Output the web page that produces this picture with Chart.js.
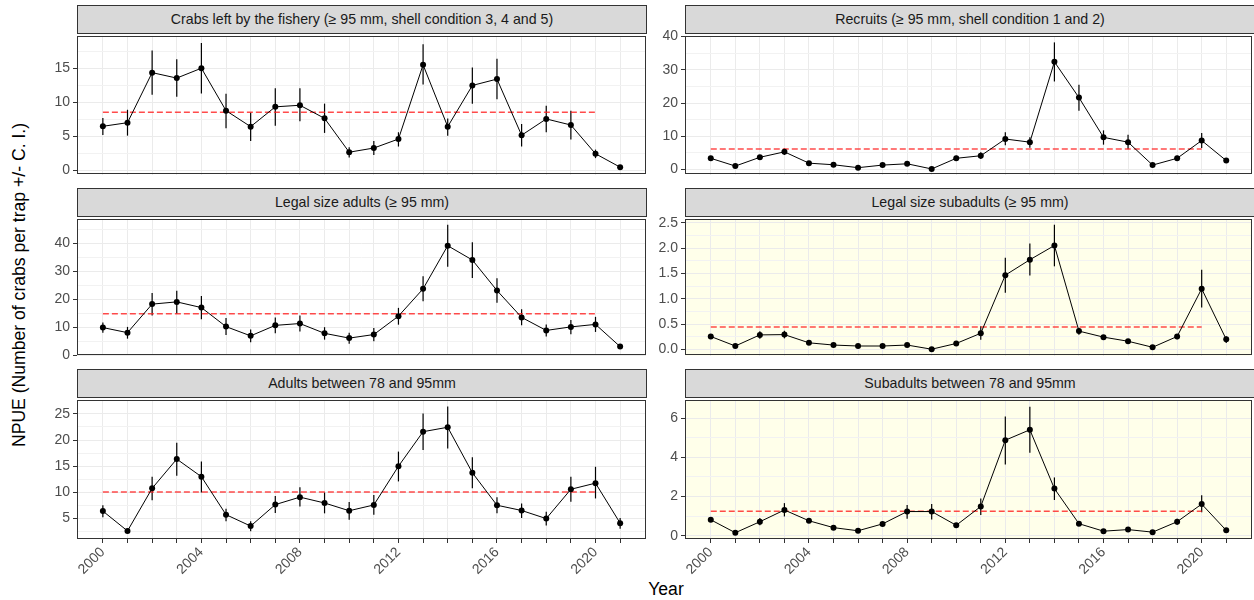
<!DOCTYPE html>
<html>
<head>
<meta charset="utf-8">
<script src="https://cdn.jsdelivr.net/npm/chart.js@4.4.0/dist/chart.umd.min.js"></script>
<style>
  html, body { margin: 0; padding: 0; overflow: hidden; background: #fff; }
  body { position: relative; width: 1254px; height: 600px; font-family: "Liberation Sans", Arial, sans-serif; }
  canvas { position: absolute; }
  .strip { position: absolute; box-sizing: border-box; background: #d9d9d9; border: 1px solid #333;
           color: #1a1a1a; font-size: 14.2px; text-align: center; z-index: 2; }
  .ytitle { position: absolute; left: 19px; top: 285px; transform: translate(-50%, -50%) rotate(-90deg);
            white-space: nowrap; font-size: 17.6px; color: #000; }
  .xtitle { position: absolute; left: 666px; top: 579px; transform: translateX(-50%); font-size: 17.6px; color: #000; }
</style>
</head>
<body>
<div class="ytitle">NPUE (Number of crabs per trap +/- C. I.)</div>
<div class="xtitle">Year</div>
<script>
const years = [2000, 2001, 2002, 2003, 2004, 2005, 2006, 2007, 2008, 2009, 2010,
               2011, 2012, 2013, 2014, 2015, 2016, 2017, 2018, 2019, 2020, 2021];
const yearLabels = [2000, 2004, 2008, 2012, 2016, 2020];
const meanSpan = [2000, 2020];

// crabs left by the fishery
const fisheryVal = [6.47, 7.0, 14.35, 13.55, 15.0, 8.77, 6.42, 9.33, 9.56, 7.64, 2.67, 3.28, 4.6, 15.5, 6.42, 12.47, 13.4, 5.16, 7.55, 6.66, 2.44, 0.47];
const fisheryHi = [7.7, 8.9, 17.6, 16.3, 18.7, 11.25, 8.5, 12.05, 12.05, 9.8, 3.4, 4.3, 5.6, 18.5, 7.6, 15.1, 16.4, 6.8, 9.5, 8.77, 3.05, 0.7];
const fisheryLo = [5.2, 5.1, 11.1, 10.8, 11.3, 6.2, 4.3, 6.56, 7.2, 5.5, 1.9, 2.25, 3.5, 12.6, 5.1, 9.8, 10.45, 3.5, 5.6, 4.55, 1.8, 0.23];
const fisheryMean = 8.53;
const fisheryTicks = [0, 5, 10, 15];

// recruits
const recruitVal = [3.4, 1.07, 3.7, 5.34, 1.94, 1.46, 0.58, 1.36, 1.75, 0.2, 3.4, 4.17, 9.2, 8.25, 32.4, 21.65, 9.7, 8.25, 1.36, 3.4, 8.74, 2.72];
const recruitHi = [3.9, 1.3, 4.3, 6.3, 2.3, 1.8, 0.8, 1.7, 2.1, 0.35, 4.2, 5.2, 11.2, 9.7, 38.25, 25.5, 11.8, 10.5, 1.8, 4.2, 11.0, 3.3];
const recruitLo = [2.9, 0.85, 3.1, 4.4, 1.6, 1.1, 0.4, 1.0, 1.4, 0.05, 2.6, 3.2, 7.3, 6.6, 26.5, 17.7, 7.5, 6.1, 0.9, 2.6, 6.5, 2.1];
const recruitMean = 6.2;
const recruitTicks = [0, 10, 20, 30, 40];

// legal size adults
const legalAdultVal = [9.86, 8.05, 18.24, 19.04, 17.0, 10.2, 6.9, 10.65, 11.3, 7.8, 6.1, 7.37, 13.94, 23.7, 39.1, 34.0, 23.1, 13.5, 8.84, 10.1, 11.0, 3.06];
const legalAdultHi = [11.7, 10.1, 22.2, 23.0, 21.1, 13.3, 9.2, 13.5, 14.2, 10.0, 8.05, 9.75, 16.9, 28.2, 46.6, 40.3, 27.5, 16.4, 11.0, 12.6, 13.7, 3.4];
const legalAdultLo = [8.0, 5.9, 14.2, 14.8, 12.8, 7.25, 4.6, 7.8, 8.5, 5.55, 4.1, 5.0, 10.9, 19.3, 31.6, 27.6, 18.7, 10.65, 6.7, 7.5, 8.3, 2.7];
const legalAdultMean = 14.84;
const legalAdultTicks = [0, 10, 20, 30, 40];

// legal size subadults
const legalSubVal = [0.257, 0.069, 0.288, 0.294, 0.132, 0.088, 0.069, 0.069, 0.088, 0.006, 0.119, 0.32, 1.466, 1.77, 2.05, 0.363, 0.244, 0.163, 0.044, 0.257, 1.197, 0.2];
const legalSubHi = [0.29, 0.09, 0.36, 0.37, 0.16, 0.11, 0.09, 0.09, 0.11, 0.02, 0.15, 0.46, 1.81, 2.09, 2.46, 0.43, 0.28, 0.19, 0.06, 0.3, 1.57, 0.26];
const legalSubLo = [0.22, 0.05, 0.21, 0.22, 0.1, 0.07, 0.05, 0.05, 0.07, 0.0, 0.09, 0.19, 1.12, 1.46, 1.64, 0.29, 0.21, 0.14, 0.03, 0.2, 0.83, 0.13];
const legalSubMean = 0.445;
const legalSubTicks = [0, 0.5, 1.0, 1.5, 2.0, 2.5];

// adults between 78 and 95mm
const adultVal = [6.43, 2.64, 10.78, 16.37, 13.0, 5.75, 3.57, 7.67, 9.1, 7.98, 6.5, 7.6, 15.0, 21.6, 22.45, 13.76, 7.55, 6.55, 5.0, 10.6, 11.77, 4.13];
const adultHi = [7.55, 2.9, 13.0, 19.5, 15.9, 6.9, 4.5, 9.3, 11.0, 10.0, 8.17, 9.5, 17.8, 25.1, 26.4, 16.7, 9.1, 7.9, 6.3, 13.0, 14.9, 5.1];
const adultLo = [5.25, 2.4, 8.5, 13.2, 10.0, 4.5, 2.6, 6.05, 7.3, 6.0, 4.8, 5.75, 12.1, 18.1, 18.4, 10.8, 6.0, 5.1, 3.7, 8.2, 8.85, 3.07];
const adultMean = 10.1;
const adultTicks = [5, 10, 15, 20, 25];

// subadults between 78 and 95mm
const subadultVal = [0.81, 0.15, 0.71, 1.31, 0.76, 0.41, 0.25, 0.6, 1.23, 1.23, 0.53, 1.49, 4.87, 5.4, 2.4, 0.61, 0.23, 0.31, 0.18, 0.71, 1.61, 0.27];
const subadultHi = [0.9, 0.2, 0.9, 1.66, 0.88, 0.48, 0.3, 0.7, 1.57, 1.61, 0.65, 1.9, 6.08, 6.58, 2.97, 0.7, 0.27, 0.36, 0.22, 0.86, 2.06, 0.32];
const subadultLo = [0.7, 0.1, 0.53, 0.98, 0.64, 0.34, 0.2, 0.5, 0.86, 0.83, 0.41, 1.06, 3.63, 4.23, 1.82, 0.52, 0.19, 0.26, 0.14, 0.56, 1.19, 0.22];
const subadultMean = 1.24;
const subadultTicks = [0, 2, 4, 6];

// layout
const cols = [
  {canvasLeft: 0, width: 650, axisW: 77, padRight: 3},
  {canvasLeft: 640, width: 616, axisW: 45, padRight: 1}
];
const rows = [{top: 33, h: 145}, {top: 216, h: 143}, {top: 397, h: 142}];
const stripH = 28;
const xAxisH = 45;

const panels = [
  {title: 'Crabs left by the fishery (≥ 95 mm, shell condition 3, 4 and 5)', val: fisheryVal, lo: fisheryLo, hi: fisheryHi,
   mean: fisheryMean, ticks: fisheryTicks, min: -0.62, max: 19.67, col: 0, row: 0, bg: '#ffffff', dec: 0},
  {title: 'Recruits (≥ 95 mm, shell condition 1 and 2)', val: recruitVal, lo: recruitLo, hi: recruitHi,
   mean: recruitMean, ticks: recruitTicks, min: -1.5, max: 40.05, col: 1, row: 0, bg: '#ffffff', dec: 0},
  {title: 'Legal size adults (≥ 95 mm)', val: legalAdultVal, lo: legalAdultLo, hi: legalAdultHi,
   mean: legalAdultMean, ticks: legalAdultTicks, min: -0.15, max: 48.5, col: 0, row: 1, bg: '#ffffff', dec: 0},
  {title: 'Legal size subadults (≥ 95 mm)', val: legalSubVal, lo: legalSubLo, hi: legalSubHi,
   mean: legalSubMean, ticks: legalSubTicks, min: -0.12, max: 2.565, col: 1, row: 1, bg: '#ffffea', dec: 1},
  {title: 'Adults between 78 and 95mm', val: adultVal, lo: adultLo, hi: adultHi,
   mean: adultMean, ticks: adultTicks, min: 1.1, max: 27.58, col: 0, row: 2, bg: '#ffffff', dec: 0},
  {title: 'Subadults between 78 and 95mm', val: subadultVal, lo: subadultLo, hi: subadultHi,
   mean: subadultMean, ticks: subadultTicks, min: -0.17, max: 6.9, col: 1, row: 2, bg: '#ffffea', dec: 0}
];

const font = {family: '"Liberation Sans", Arial, sans-serif', size: 14};

function panelPlugin(p) {
  return {
    id: 'panelDeco',
    beforeDraw(chart) {
      const a = chart.chartArea, ctx = chart.ctx;
      ctx.save();
      ctx.fillStyle = p.bg;
      ctx.fillRect(a.left, a.top, a.right - a.left, a.bottom - a.top);
      ctx.restore();
    },
    beforeDatasetsDraw(chart) {
      const {ctx, scales: {x, y}} = chart;
      ctx.save();
      ctx.strokeStyle = '#000';
      ctx.lineWidth = 1.2;
      years.forEach((yr, i) => {
        const px = x.getPixelForValue(yr);
        ctx.beginPath();
        ctx.moveTo(px, y.getPixelForValue(p.lo[i]));
        ctx.lineTo(px, y.getPixelForValue(p.hi[i]));
        ctx.stroke();
      });
      ctx.restore();
    },
    afterDraw(chart) {
      const a = chart.chartArea, ctx = chart.ctx;
      ctx.save();
      ctx.strokeStyle = '#333';
      ctx.lineWidth = 1;
      ctx.strokeRect(Math.round(a.left) + 0.5, Math.round(a.top) + 0.5,
                     Math.round(a.right - a.left) - 1, Math.round(a.bottom - a.top) - 1);
      ctx.restore();
    }
  };
}

panels.forEach(p => {
  const c = cols[p.col], r = rows[p.row];
  const bottomRow = p.row === 2;
  const canvas = document.createElement('canvas');
  canvas.width = c.width;
  canvas.height = 8 + r.h + (bottomRow ? xAxisH : 8);
  canvas.style.left = c.canvasLeft + 'px';
  canvas.style.top = (r.top - 8) + 'px';
  document.body.appendChild(canvas);

  const strip = document.createElement('div');
  strip.className = 'strip';
  strip.textContent = p.title;
  const areaLeft = c.canvasLeft + c.axisW;
  const areaRight = c.canvasLeft + c.width - c.padRight;
  strip.style.left = areaLeft + 'px';
  strip.style.width = (areaRight - areaLeft) + 'px';
  strip.style.top = (r.top - stripH) + 'px';
  strip.style.height = (stripH + 1) + 'px';
  strip.style.lineHeight = (stripH - 1) + 'px';
  document.body.appendChild(strip);

  // minor breaks halfway between majors
  const step = p.ticks[1] - p.ticks[0];
  const minor = [];
  for (let v = p.ticks[0] - step / 2; v <= p.ticks[p.ticks.length - 1] + step / 2 + 1e-9; v += step) {
    if (v >= p.min && v <= p.max) minor.push(+v.toFixed(4));
  }
  const isMajor = v => p.ticks.some(t => Math.abs(t - v) < 1e-6);

  new Chart(canvas, {
    data: {
      datasets: [
        {
          type: 'line',
          data: years.map((yr, i) => ({x: yr, y: p.val[i]})),
          borderColor: '#000',
          borderWidth: 1,
          pointRadius: 3,
          pointBackgroundColor: '#000',
          pointBorderWidth: 0,
          tension: 0
        },
        {
          type: 'line',
          data: meanSpan.map(yr => ({x: yr, y: p.mean})),
          borderColor: 'rgba(255, 30, 30, 0.8)',
          borderWidth: 1.5,
          borderDash: [6, 3],
          pointRadius: 0
        }
      ]
    },
    options: {
      responsive: false,
      animation: false,
      devicePixelRatio: 1,
      layout: {padding: {top: 8, bottom: bottomRow ? 0 : 8, left: 0, right: c.padRight}},
      plugins: {legend: {display: false}, tooltip: {enabled: false}},
      scales: {
        x: {
          type: 'linear',
          min: 1998.95,
          max: 2022.05,
          afterBuildTicks: s => { s.ticks = years.map(v => ({value: v})); },
          afterFit: s => { s.height = bottomRow ? xAxisH : 0; },
          border: {display: false},
          grid: {color: '#ebebeb', lineWidth: 1, drawTicks: bottomRow, tickLength: 4, tickColor: '#333', tickWidth: 1},
          ticks: {
            display: bottomRow,
            autoSkip: false,
            minRotation: 45,
            maxRotation: 45,
            padding: 1,
            color: '#4d4d4d',
            font: font,
            callback: v => yearLabels.includes(v) ? String(v) : ''
          }
        },
        y: {
          type: 'linear',
          min: p.min,
          max: p.max,
          afterBuildTicks: s => {
            s.ticks = p.ticks.concat(minor).sort((a, b) => a - b).map(v => ({value: v}));
          },
          afterFit: s => { s.width = c.axisW; },
          border: {display: false},
          grid: {
            color: ctx => isMajor(ctx.tick.value) ? '#ebebeb' : '#f2f2f2',
            lineWidth: 1,
            tickLength: 4,
            tickWidth: 1,
            tickColor: ctx => isMajor(ctx.tick.value) ? '#333' : 'rgba(0,0,0,0)'
          },
          ticks: {
            autoSkip: false,
            padding: 3,
            color: '#4d4d4d',
            font: font,
            callback: v => isMajor(v) ? v.toFixed(p.dec) : ''
          }
        }
      }
    },
    plugins: [panelPlugin(p)]
  });
});
</script>
</body>
</html>
